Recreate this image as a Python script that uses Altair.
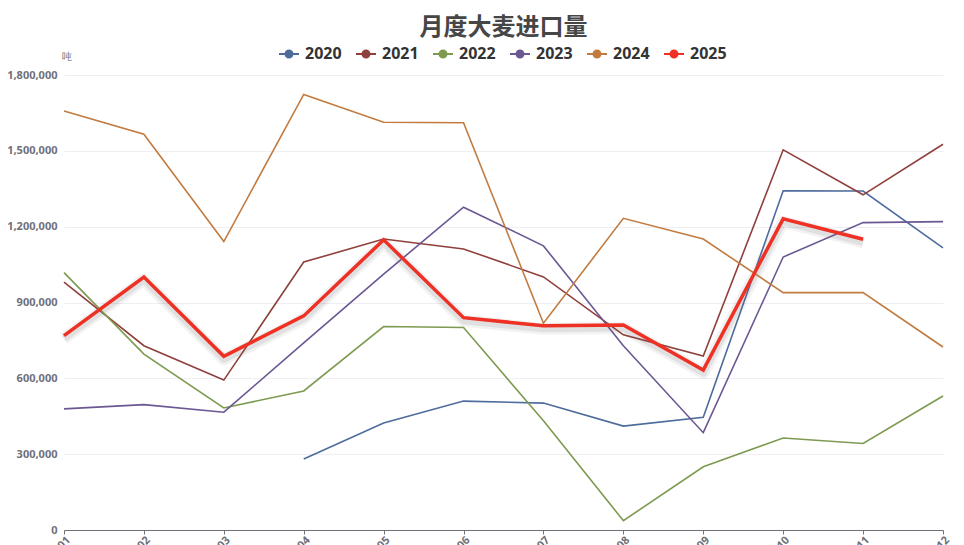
import altair as alt
import pandas as pd

months = ["01", "02", "03", "04", "05", "06", "07", "08", "09", "10", "11", "12"]
years = ["2020", "2021", "2022", "2023", "2024", "2025"]
v2020 = [None, None, None, 281000, 423000, 510000, 502000, 411000, 446000, 1342000, 1341000, 1116000]
v2021 = [981000, 729000, 593000, 1060000, 1151000, 1112000, 1001000, 772000, 688000, 1504000, 1326000, 1526000]
v2022 = [1018000, 696000, 483000, 550000, 805000, 801000, 432000, 37000, 250000, 364000, 342000, 530000]
v2023 = [479000, 496000, 466000, 740000, 1012000, 1277000, 1124000, 729000, 385000, 1080000, 1216000, 1220000]
v2024 = [1658000, 1566000, 1141000, 1723000, 1613000, 1611000, 818000, 1233000, 1151000, 939000, 939000, 724000]
v2025 = [769000, 1001000, 687000, 847000, 1148000, 840000, 808000, 811000, 633000, 1231000, 1150000, None]
colors = ["#4d6c9c", "#8f403c", "#7d9a50", "#6b5792", "#c17b40", "#ee3124"]

series = [v2020, v2021, v2022, v2023, v2024, v2025]
rows = []
for yr, vals in zip(years, series):
    for m, v in zip(months, vals):
        if v is not None:
            rows.append({"month": m, "year": yr, "value": v})
df = pd.DataFrame(rows)

x_enc = alt.X("month:O", sort=months,
              scale=alt.Scale(type="point", padding=0),
              axis=alt.Axis(title=None, labelAngle=315, labelFontSize=11, labelFontWeight="bold",
                            labelColor="#6e7079", domainColor="#6e7079", tickColor="#6e7079",
                            tickSize=4, labelPadding=0, grid=False))
y_enc = alt.Y("value:Q", scale=alt.Scale(domain=[0, 1800000]),
              axis=alt.Axis(title="吨", titleAngle=0, titleAlign="center", titleX=2, titleY=-14,
                            titleFontSize=10, titleFontWeight="normal", titleColor="#6e7079",
                            values=[0, 300000, 600000, 900000, 1200000, 1500000, 1800000],
                            format=",d", labelFontSize=11, labelFontWeight="bold", labelColor="#6e7079",
                            labelPadding=7, domain=False, ticks=False, gridColor="#eeeef4"))

color_enc = alt.Color("year:N", scale=alt.Scale(domain=years, range=colors),
                      legend=alt.Legend(title=None, orient="none", legendX=214, legendY=-32,
                                        direction="horizontal", labelFontSize=16, labelFontWeight="bold",
                                        labelColor="#333333", labelOffset=5, columnPadding=10,
                                        symbolSize=400, symbolStrokeWidth=2,
                                        symbolType="M-1,0 L-0.35,0 M0.35,0 L1,0 M0.35,0 A0.35,0.35 0 1,0 -0.35,0 A0.35,0.35 0 1,0 0.35,0 Z"))

base = alt.Chart(df)

others = base.transform_filter(alt.datum.year != "2025").mark_line(strokeWidth=1.6).encode(
    x=x_enc, y=y_enc, color=color_enc)
legend_pts = base.transform_filter("false").mark_point(filled=True, opacity=1).encode(
    x=x_enc, y=y_enc, color=color_enc)
shadow1 = base.transform_filter(alt.datum.year == "2025").mark_line(
    strokeWidth=12, color="#000000", opacity=0.05, yOffset=3, strokeJoin="round").encode(x=x_enc, y=y_enc)
shadow2 = base.transform_filter(alt.datum.year == "2025").mark_line(
    strokeWidth=7, color="#000000", opacity=0.07, yOffset=3, strokeJoin="round").encode(x=x_enc, y=y_enc)
main = base.transform_filter(alt.datum.year == "2025").mark_line(strokeWidth=3.5).encode(
    x=x_enc, y=y_enc, color=color_enc)

chart = alt.layer(shadow1, shadow2, others, main, legend_pts).properties(
    width=879, height=455,
    autosize=alt.AutoSizeParams(type="none"),
    padding={"left": 56, "top": 67, "right": 13, "bottom": 20},
    title=alt.Title("月度大麦进口量", fontSize=24, fontWeight="bold", color="#464646",
                    anchor="middle", frame="group", offset=3, font="Noto Sans CJK SC"),
).configure(font="Noto Sans", view=alt.ViewConfig(strokeWidth=0, stroke="transparent"))

chart.save("out.html", embed_options={"renderer": "svg", "actions": False})
